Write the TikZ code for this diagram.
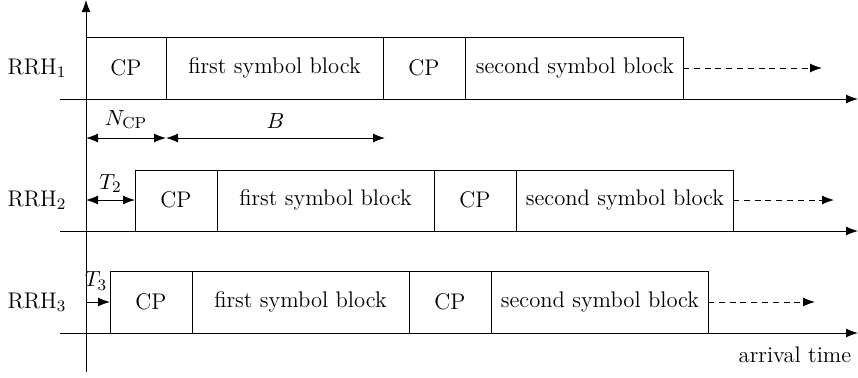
\documentclass[tikz,border=0pt]{standalone}
\usepackage{amsmath}
\usepackage{tikz}
\usetikzlibrary{arrows.meta}
\newcommand{\rrh}[1]{RRH$_{#1}$}

\begin{document}
\begin{tikzpicture}[x=0.5pt,y=0.5pt,line width=0.5pt,
    every node/.style={font=\fontsize{11.3}{13.6}\selectfont},
    tip/.style={-{Latex[length=6pt,width=4.5pt]}},
    dtip/.style={{Latex[length=6pt,width=4.5pt]}-{Latex[length=6pt,width=4.5pt]}},
    dashline/.style={dash pattern=on 3pt off 2.4pt}]
  \useasboundingbox (0,0) rectangle (858,377);
  % 坐标轴
  \coordinate (O0) at (86,5);
  \coordinate (O1) at (86,377);
  \draw[tip] (O0) -- (O1);
  \coordinate (L1) at (60,278);  \coordinate (R1) at (858,278);
  \coordinate (L2) at (60,146);  \coordinate (R2) at (858,146);
  \coordinate (L3) at (60,44);   \coordinate (R3) at (858,44);
  \draw[tip] (L1) -- (R1);
  \draw[tip] (L2) -- (R2);
  \draw[tip] (L3) -- (R3);
  \node (at) at (795,22) {arrival time};
  % RRH1 的符号块
  \draw (86,278) rectangle (683,340);
  \draw (166,278) -- (166,340) (383,278) -- (383,340) (465,278) -- (465,340);
  \node (r1)  at (37,309)    {\rrh{1}};
  \node (a1)  at (126,309)   {CP};
  \node (b1)  at (274.5,309) {first symbol block};
  \node (c1)  at (424,309)   {CP};
  \node (d1)  at (575,309)   {second symbol block};
  \coordinate (e1) at (683,309);
  \coordinate (f1) at (822,309);
  \draw[tip,dashline] (e1) -- (f1);
  % N_CP 与 B 的长度
  \coordinate (m0) at (86,239);
  \coordinate (m1) at (166,239);
  \coordinate (m2) at (385,239);
  \draw[dtip] (m0) -- (m1) node[midway,above=1pt] (ncp) {$N_{\mathrm{CP}}$};
  \draw[dtip] (m1) -- (m2) node[midway,above=1pt] (bl) {$B$};
  % RRH2 的符号块
  \draw (135,146) rectangle (733,207);
  \draw (217,146) -- (217,207) (434,146) -- (434,207) (516,146) -- (516,207);
  \node (r2)  at (37,177)    {\rrh{2}};
  \node (a2)  at (176,177)   {CP};
  \node (b2)  at (325.5,177) {first symbol block};
  \node (c2)  at (475,177)   {CP};
  \node (d2)  at (625,177)   {second symbol block};
  \coordinate (g2) at (86,177);
  \coordinate (h2) at (135,177);
  \draw[dtip] (g2) -- (h2) node[midway,above=0pt] (t2) {$T_2$};
  \coordinate (e2) at (733,177);
  \coordinate (f2) at (834,177);
  \draw[tip,dashline] (e2) -- (f2);
  % RRH3 的符号块
  \draw (110,44) rectangle (708,106);
  \draw (192,44) -- (192,106) (409,44) -- (409,106) (491,44) -- (491,106);
  \node (r3)  at (37,75)     {\rrh{3}};
  \node (a3)  at (151,75)    {CP};
  \node (b3)  at (300.5,75)  {first symbol block};
  \node (c3)  at (450,75)    {CP};
  \node (d3)  at (600,75)    {second symbol block};
  \coordinate (g3) at (86,75);
  \coordinate (h3) at (110,75);
  \draw[tip] (g3) -- (h3);
  \node (t3) at (96,96) {$T_3$};
  \coordinate (e3) at (708,75);
  \coordinate (f3) at (815,75);
  \draw[tip,dashline] (e3) -- (f3);
\end{tikzpicture}
\end{document}
